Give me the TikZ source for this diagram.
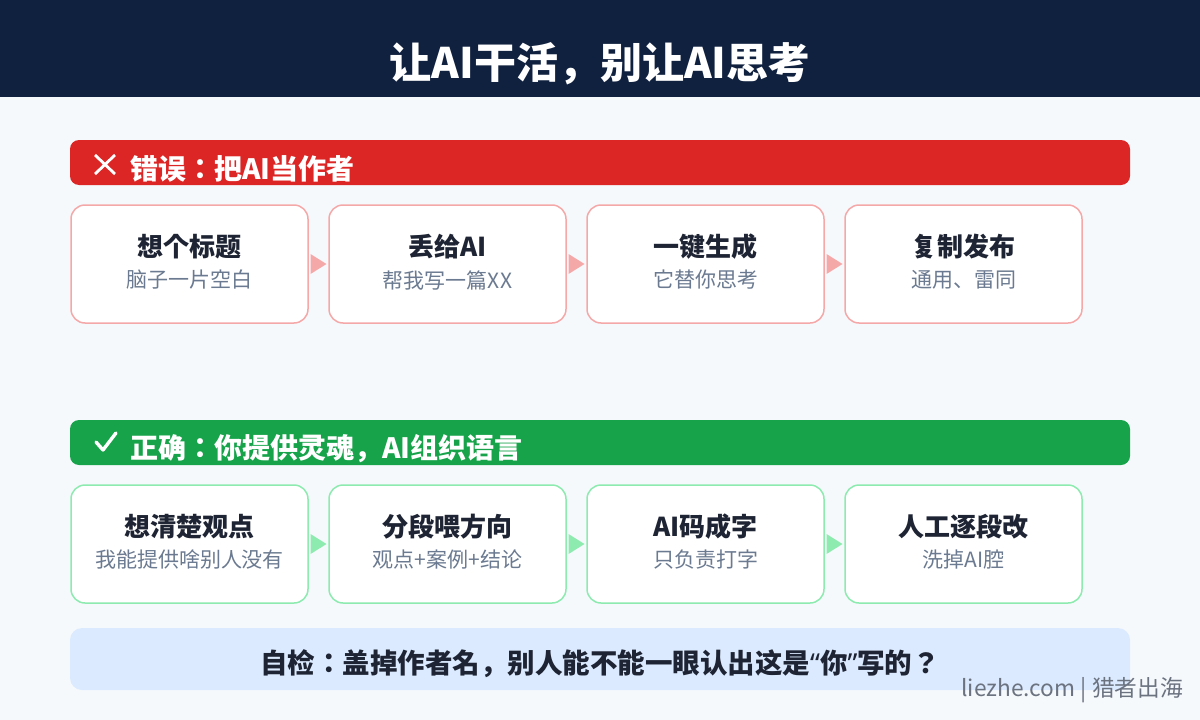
\documentclass[tikz,border=0pt]{standalone}
\usepackage{fontspec}
\setmainfont{Noto Sans CJK JP}
\newfontfamily\latinq{Noto Sans}
\usetikzlibrary{decorations.markings}
\definecolor{navy}{HTML}{10213F}
\definecolor{pagebg}{HTML}{F5F9FC}
\definecolor{redbar}{HTML}{DC2626}
\definecolor{greenbar}{HTML}{16A34A}
\definecolor{pinkline}{HTML}{F5A8A8}
\definecolor{greenline}{HTML}{8DEBB0}
\definecolor{subgray}{HTML}{6B7A90}
\definecolor{darktext}{HTML}{1E2433}
\definecolor{bluebox}{HTML}{DBEAFE}
\definecolor{markgray}{HTML}{6B7280}
\tikzset{
  stepbox/.style={draw, line width=1.5pt, fill=white, rounded corners=14pt,
    minimum width=237pt, minimum height=118pt, inner sep=0pt},
  badbox/.style={stepbox, draw=pinkline},
  goodbox/.style={stepbox, draw=greenline},
  ttl/.style={font=\bfseries\fontsize{26}{30}\selectfont, text=darktext, inner sep=0pt},
  sub/.style={font=\fontsize{21}{25}\selectfont, text=subgray, inner sep=0pt},
  banner/.style={rounded corners=9pt, minimum width=1060pt, minimum height=45pt, inner sep=0pt},
  bantext/.style={font=\bfseries\fontsize{28}{32}\selectfont, text=white, anchor=west, inner sep=0pt},
  tri/.style={postaction={decorate}, decoration={markings,
     mark=at position 0.5 with {\fill[#1] (-8pt,10pt) -- (8pt,0pt) -- (-8pt,-10pt) -- cycle;}}},
}
\begin{document}
\begin{tikzpicture}[x=1pt,y=-1pt]
\useasboundingbox (0,0) rectangle (1200,720);
\fill[pagebg] (0,0) rectangle (1200,720);
% header
\fill[navy] (0,0) rectangle (1200,97);
\node[font=\bfseries\fontsize{42}{48}\selectfont, text=white] (title) at (600,64) {让AI干活，别让AI思考};

% red banner
\node[banner, fill=redbar] (bad) at (600,162.5) {};
\draw[white, line width=2.8pt] (95,155) -- (115,174) (115,155) -- (95,174);
\node[bantext] (badtxt) at (130,169) {错误：把AI当作者};

% row 1
\node[badbox] (a1) at (189.5,264) {};
\node[badbox] (a2) at (447.5,264) {};
\node[badbox] (a3) at (705.5,264) {};
\node[badbox] (a4) at (963.5,264) {};
\node[ttl] at ([yshift=17pt]a1.center) {想个标题};
\node[sub] at ([yshift=-16pt]a1.center) {脑子一片空白};
\node[ttl] at ([yshift=17pt]a2.center) {丢给AI};
\node[sub] at ([yshift=-16pt]a2.center) {帮我写一篇XX};
\node[ttl] at ([yshift=17pt]a3.center) {一键生成};
\node[sub] at ([yshift=-16pt]a3.center) {它替你思考};
\node[ttl] at ([yshift=17pt]a4.center) {复制发布};
\node[sub] at ([yshift=-16pt]a4.center) {通用、雷同};
\path[tri=pinkline] (a1.east) -- (a2.west);
\path[tri=pinkline] (a2.east) -- (a3.west);
\path[tri=pinkline] (a3.east) -- (a4.west);

% green banner
\node[banner, fill=greenbar] (good) at (600,442.5) {};
\draw[white, line width=3.4pt, line cap=round, line join=round] (96,442) -- (103,450) -- (116,433);
\node[bantext] (goodtxt) at (130,449) {正确：你提供灵魂，AI组织语言};

% row 2
\node[goodbox] (b1) at (189.5,544) {};
\node[goodbox] (b2) at (447.5,544) {};
\node[goodbox] (b3) at (705.5,544) {};
\node[goodbox] (b4) at (963.5,544) {};
\node[ttl] at ([yshift=17pt]b1.center) {想清楚观点};
\node[sub] at ([yshift=-16pt]b1.center) {我能提供啥别人没有};
\node[ttl] at ([yshift=17pt]b2.center) {分段喂方向};
\node[sub] at ([yshift=-16pt]b2.center) {观点+案例+结论};
\node[ttl] at ([yshift=17pt]b3.center) {AI码成字};
\node[sub] at ([yshift=-16pt]b3.center) {只负责打字};
\node[ttl] at ([yshift=17pt]b4.center) {人工逐段改};
\node[sub] at ([yshift=-16pt]b4.center) {洗掉AI腔};
\path[tri=greenline] (b1.east) -- (b2.west);
\path[tri=greenline] (b2.east) -- (b3.west);
\path[tri=greenline] (b3.east) -- (b4.west);

% bottom check
\node[fill=bluebox, rounded corners=12pt, minimum width=1060pt, minimum height=62pt, inner sep=0pt] (check) at (600,659) {};
\node[font=\bfseries\fontsize{27.5}{32}\selectfont, text=darktext, inner sep=0pt] (checktxt) at (600,664) {自检：盖掉作者名，别人能不能一眼认出这是{\latinq “}你{\latinq ”}写的？};

% watermark
\node[font=\fontsize{22.7}{27}\selectfont, text=markgray, anchor=east, inner sep=0pt] (mark) at (1183,690) {liezhe.com | 猎者出海};
\end{tikzpicture}
\end{document}
